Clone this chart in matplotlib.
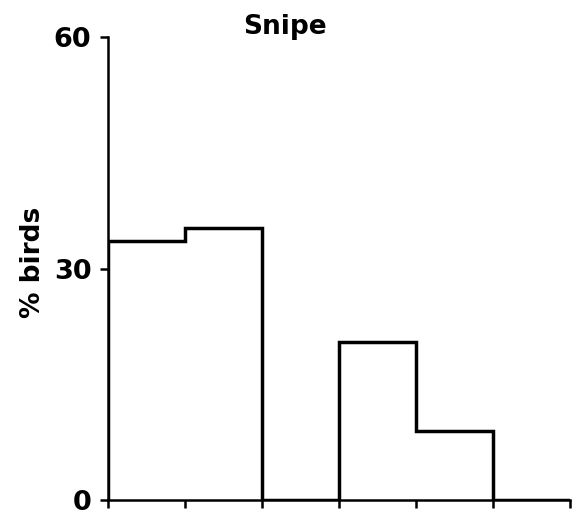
import matplotlib
matplotlib.use("Agg")
import matplotlib.pyplot as plt

plt.rcParams['font.family'] = ['DejaVu Sans']

title = "Snipe"
ylabel = "% birds"
bin_edges = [0, 1, 2, 3, 4, 5, 6]
percent_birds = [33.6, 35.3, 0, 20.5, 9.0, 0]
yticks = [0, 30, 60]

fig = plt.figure(figsize=(5.76, 5.17), dpi=100)
ax = fig.add_axes([0.1875, 0.033, 0.802, 0.895])

ax.stairs(percent_birds, bin_edges, baseline=0, color='black', linewidth=2.5, fill=False)

ax.set_xlim(0, 6)
ax.set_ylim(0, 60)
ax.set_xticks(bin_edges)
ax.set_xticklabels([])
ax.set_yticks(yticks)
ax.set_yticklabels([str(v) for v in yticks], fontsize=19.5, fontweight='bold')
for s in ['top', 'right']:
    ax.spines[s].set_visible(False)
for s in ['left', 'bottom']:
    ax.spines[s].set_linewidth(1.8)
ax.tick_params(direction='out', length=6, width=1.8, pad=6)
ax.patch.set_visible(False)

fig.text(33/576, 1 - 262/517, ylabel, fontsize=19, fontweight='bold', rotation=90,
         ha='center', va='center')
fig.text(285/576, 1 - 27/517, title, fontsize=19, fontweight='bold', ha='center', va='center')

fig.savefig("out.png", dpi=100)
